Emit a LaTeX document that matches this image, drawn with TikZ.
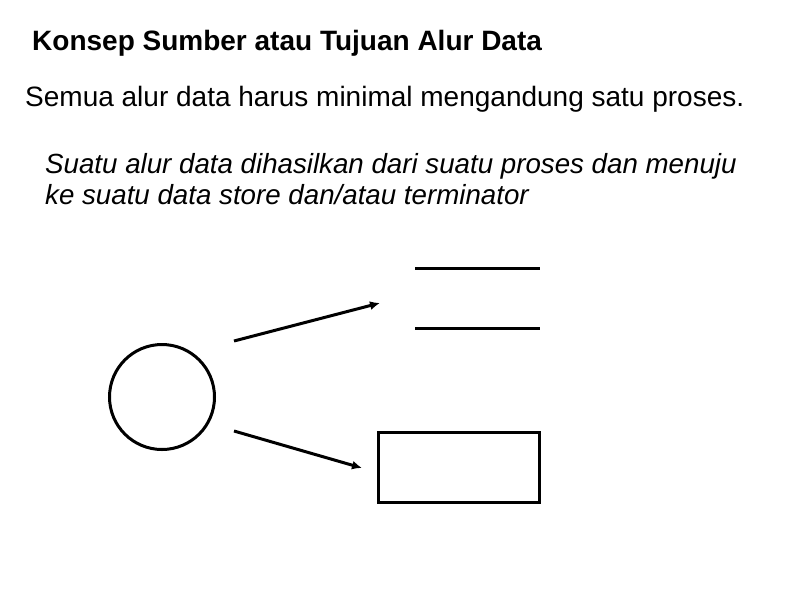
\documentclass[tikz,border=0pt]{standalone}
\usepackage{fontspec}
\setmainfont{Liberation Sans}
\usepackage{tikz}
\usetikzlibrary{positioning,arrows.meta}

\begin{document}
\begin{tikzpicture} [x=1pt, y=-1pt, thick line/.style={line width=3pt}, flow/.style={thick line, -{Latex[length=10pt,width=9pt]}}, txt/.style={anchor=base west, inner sep=0pt, font=\fontsize{28}{32}\selectfont}]
										\useasboundingbox (0, 0) rectangle (794, 595);
										\node [txt, font=\fontsize{28}{32}\selectfont\bfseries] (title) at (32, 50) {Konsep Sumber atau Tujuan Alur Data};
										\node [txt] (rule) at (25, 106) {Semua alur data harus minimal mengandung satu proses.};
										\node [txt, font=\fontsize{27.7}{31}\selectfont\itshape, align=left, anchor=north west] (desc) at (45, 153) {Suatu alur data dihasilkan dari suatu proses dan menuju\\ke suatu data store dan/atau terminator};
										\node [thick line, draw, circle, minimum size=105pt, inner sep=0pt] (proc) at (162, 397) {};
										\node [thick line, draw, rectangle, minimum width=161pt, minimum height=70pt, inner sep=0pt] (term) at (459, 467) {};
										\draw [thick line] (415, 268) coordinate (storeA) -- (540, 268);
										\draw [thick line] (415, 328) coordinate (storeB) -- (540, 328);
										\coordinate (outA) at (234, 341);
										\coordinate (inA) at (380, 303);
										\coordinate (outB) at (234, 431);
										\coordinate (inB) at (362, 468);
										\draw [flow] (outA)--(inA);
										\draw [flow] (outB)--(inB);
									\end{tikzpicture}
\end{document}
